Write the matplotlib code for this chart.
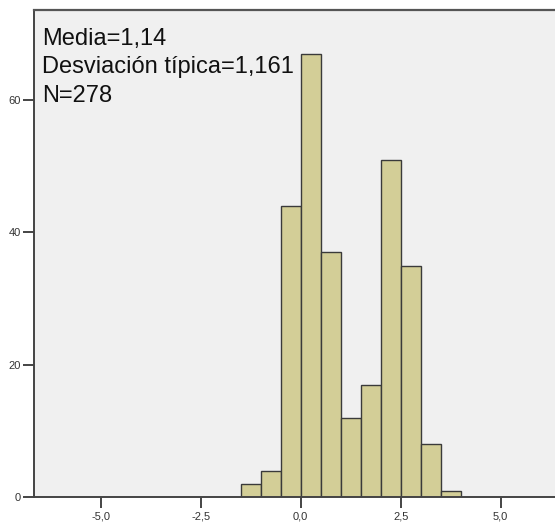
import matplotlib
matplotlib.use("Agg")
import matplotlib.pyplot as plt

# histogram data
bin_edges = [-1.5, -1.0, -0.5, 0.0, 0.5, 1.0, 1.5, 2.0, 2.5, 3.0, 3.5, 4.0]
counts = [2, 4, 44, 67, 37, 12, 17, 51, 35, 8, 1]
x_ticks = [-5.0, -2.5, 0.0, 2.5, 5.0]
x_tick_labels = ["-5,0", "-2,5", "0,0", "2,5", "5,0"]
y_ticks = [0, 20, 40, 60]
stats_lines = ["Media=1,14", "Desviación típica=1,161", "N=278"]

plt.rcParams['font.family'] = ['Liberation Sans', 'DejaVu Sans']

W, H = 555, 522
fig = plt.figure(figsize=(W / 100, H / 100), dpi=100)
fig.patch.set_facecolor("white")

ax = fig.add_axes([33.7 / W, 1 - 497.3 / H, 1 - 33.7 / W, (497.3 - 10) / H])
ax.set_facecolor("#F0F0F0")

widths = [bin_edges[i + 1] - bin_edges[i] for i in range(len(counts))]
ax.bar(bin_edges[:-1], counts, width=widths, align='edge',
       color="#D3CE97", edgecolor="#3A3A3A", linewidth=1.0, zorder=2)

ax.set_xlim(-6.675, 6.36)
ax.set_ylim(0, 73.6)

ax.set_xticks(x_ticks)
ax.set_xticklabels(x_tick_labels)
ax.set_yticks(y_ticks)

ax.tick_params(axis='both', length=8, width=1.4, color="#444444",
               labelsize=8, labelcolor="#333333")
ax.tick_params(axis='y', pad=1)
ax.tick_params(axis='x', pad=2)

for side in ['left', 'bottom']:
    ax.spines[side].set_color("#444444")
    ax.spines[side].set_linewidth(1.4)
ax.spines['top'].set_color("#555555")
ax.spines['top'].set_linewidth(1.6)
ax.spines['right'].set_visible(False)

# stats box, one line at a time (baselines in pixels from top)
for i, line in enumerate(stats_lines):
    y_px = 45 + i * 28.3
    fig.text(42 / W, 1 - y_px / H, line, ha='left', va='baseline',
             fontsize=17, color="#111111")

fig.savefig("out.png", dpi=100)
